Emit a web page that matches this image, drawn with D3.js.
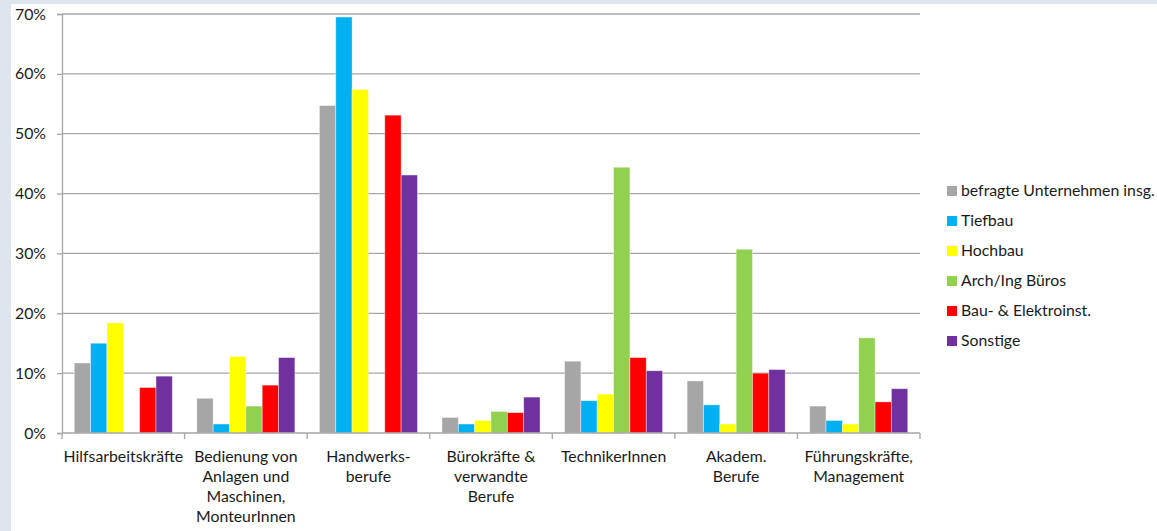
<!DOCTYPE html>
<html>
<head>
<meta charset="utf-8">
<script src="https://cdn.jsdelivr.net/npm/d3@7"></script>
<style>
  body { margin: 0; background: #dee5ed; }
  svg { display: block; font-family: Lato, "Liberation Sans", sans-serif; }
</style>
</head>
<body>
<svg id="chart" width="1157" height="531"></svg>
<script>
var categories = [
    ["Hilfsarbeitskräfte"],
    ["Bedienung von", "Anlagen und", "Maschinen,", "MonteurInnen"],
    ["Handwerks-", "berufe"],
    ["Bürokräfte &", "verwandte", "Berufe"],
    ["TechnikerInnen"],
    ["Akadem.", "Berufe"],
    ["Führungskräfte,", "Management"]
];
var seriesNames = ["befragte Unternehmen insg.", "Tiefbau", "Hochbau", "Arch/Ing Büros", "Bau- & Elektroinst.", "Sonstige"];
var seriesColors = ["#a6a6a6", "#00b0f0", "#ffff00", "#92d050", "#ff0000", "#7030a0"];

// values in percent, one array per series, in category order
var insgesamt = [11.7, 5.8, 54.7, 2.6, 12.0, 8.7, 4.5];
var tiefbau   = [15.0, 1.5, 69.5, 1.5, 5.4, 4.7, 2.1];
var hochbau   = [18.4, 12.8, 57.4, 2.1, 6.5, 1.5, 1.5];
var archIng   = [0, 4.5, 0, 3.6, 44.4, 30.7, 15.9];
var bauElektro = [7.6, 8.0, 53.1, 3.4, 12.6, 10.0, 5.2];
var sonstige  = [9.5, 12.6, 43.1, 6.0, 10.4, 10.6, 7.4];
var yTicks = [0, 10, 20, 30, 40, 50, 60, 70];

var series = [insgesamt, tiefbau, hochbau, archIng, bauElektro, sonstige];

var svg = d3.select("#chart");
var fontSize = 15.8;

// white panel
svg.append("rect")
    .attr("x", 11).attr("y", 4)
    .attr("width", 1157 - 11).attr("height", 531 - 4)
    .attr("fill", "#ffffff");

var plotL = 62, plotR = 920, plotT = 14, plotB = 433;

var x0 = d3.scaleBand()
    .domain(d3.range(categories.length))
    .range([plotL, plotR])
    .paddingInner(0.2)
    .paddingOuter(0.1);

var x1 = d3.scaleBand()
    .domain(d3.range(series.length))
    .range([0, x0.bandwidth()]);

var y = d3.scaleLinear().domain([0, 70]).range([plotB, plotT]);

// gridlines
svg.append("g").selectAll("line")
    .data(yTicks.slice(1))
    .enter().append("line")
    .attr("x1", plotL).attr("x2", plotR)
    .attr("y1", function (d) { return y(d); })
    .attr("y2", function (d) { return y(d); })
    .attr("stroke", "#a6a6a6")
    .attr("stroke-width", 1.3);

// bars
var groups = svg.append("g").selectAll("g")
    .data(categories)
    .enter().append("g")
    .attr("transform", function (d, i) { return "translate(" + x0(i) + ",0)"; });

groups.selectAll("rect")
    .data(function (d, i) {
        return series.map(function (s, k) { return { k: k, v: s[i] }; });
    })
    .enter().append("rect")
    .filter(function (d) { return d.v > 0; })
    .attr("x", function (d) { return x1(d.k); })
    .attr("width", x1.bandwidth())
    .attr("y", function (d) { return y(d.v); })
    .attr("height", function (d) { return y(0) - y(d.v); })
    .attr("fill", function (d) { return seriesColors[d.k]; })
    .attr("stroke", "#ffffff")
    .attr("stroke-opacity", 0.5)
    .attr("stroke-width", 0.8);

// y axis
var yAxis = d3.axisLeft(y)
    .tickValues(yTicks)
    .tickSize(5)
    .tickFormat(function (d) { return d + "%"; });

var ya = svg.append("g")
    .attr("transform", "translate(" + plotL + ",0)")
    .call(yAxis);
ya.select(".domain").attr("stroke", "#a6a6a6").attr("stroke-width", 1.3);
ya.selectAll(".tick line").attr("stroke", "#a6a6a6").attr("stroke-width", 1.3);
ya.selectAll(".tick text")
    .attr("x", -16)
    .attr("font-size", fontSize)
    .attr("font-family", "Lato, 'Liberation Sans', sans-serif")
    .attr("fill", "#1a1a1a");

// x axis baseline and ticks between categories
var xb = svg.append("g");
xb.append("line")
    .attr("x1", plotL).attr("x2", plotR)
    .attr("y1", y(0)).attr("y2", y(0))
    .attr("stroke", "#a6a6a6").attr("stroke-width", 1.3);
xb.selectAll(".xt")
    .data(d3.range(categories.length + 1))
    .enter().append("line")
    .attr("class", "xt")
    .attr("x1", function (i) { return plotL + (plotR - plotL) * i / categories.length; })
    .attr("x2", function (i) { return plotL + (plotR - plotL) * i / categories.length; })
    .attr("y1", y(0)).attr("y2", y(0) + 6)
    .attr("stroke", "#a6a6a6").attr("stroke-width", 1.3);

// category labels
var labels = svg.append("g").selectAll("text")
    .data(categories)
    .enter().append("text")
    .attr("text-anchor", "middle")
    .attr("font-size", fontSize)
    .attr("fill", "#1a1a1a")
    .attr("transform", function (d, i) {
        return "translate(" + (x0(i) + x0.bandwidth() / 2) + ",462)";
    });

labels.selectAll("tspan")
    .data(function (d) { return d; })
    .enter().append("tspan")
    .attr("x", 0)
    .attr("y", function (d, j) { return j * 20; })
    .text(function (d) { return d; });

// legend
var legend = svg.append("g").selectAll("g")
    .data(seriesNames)
    .enter().append("g")
    .attr("transform", function (d, i) { return "translate(947," + (191 + i * 30) + ")"; });

legend.append("rect")
    .attr("x", 0).attr("y", -5)
    .attr("width", 10).attr("height", 10)
    .attr("fill", function (d, i) { return seriesColors[i]; });

legend.append("text")
    .attr("x", 14)
    .attr("y", 5)
    .attr("font-size", fontSize)
    .attr("fill", "#1a1a1a")
    .text(function (d) { return d; });
</script>
</body>
</html>
